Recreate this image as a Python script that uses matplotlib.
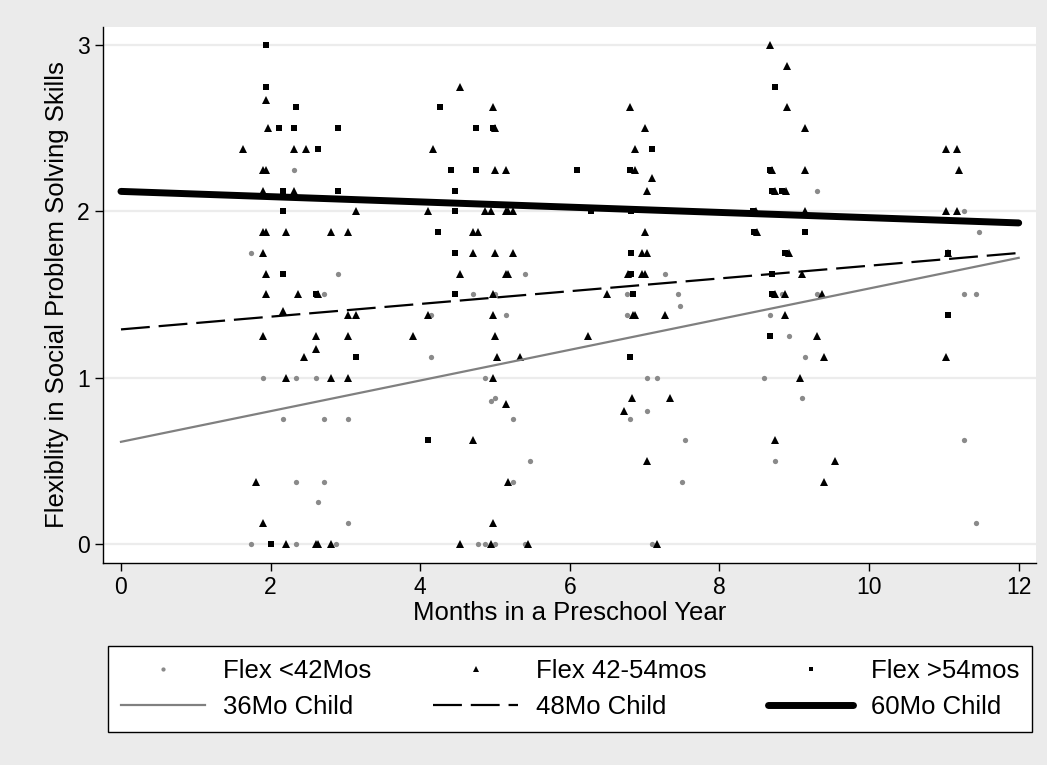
import numpy as np
import matplotlib
matplotlib.use("Agg")
import matplotlib.pyplot as plt

plt.rcParams['font.family'] = ['Liberation Sans', 'DejaVu Sans']

# observed flexibility scores by age group (month of preschool year, score)
young_x = [2.31, 1.74, 2.90, 2.71, 1.90, 2.34, 2.61, 2.17, 2.71, 3.04, 2.34, 2.71, 2.64, 3.04,
           1.74, 2.34, 2.87, 5.40, 4.70, 5.00, 4.14, 5.14, 4.14, 4.87, 5.00, 4.94, 5.24, 5.47,
           5.24, 4.77, 4.87, 5.00, 5.40, 7.27, 6.77, 7.44, 7.47, 6.77, 7.03, 7.17, 7.03, 6.80,
           7.54, 7.50, 7.10, 9.30, 8.83, 9.30, 8.67, 8.93, 9.14, 8.60, 9.10, 8.74, 11.27, 11.47,
           11.27, 11.43, 11.27, 11.43]
young_y = [2.25, 1.75, 1.625, 1.5, 1.0, 1.0, 1.0, 0.75, 0.75, 0.75, 0.375, 0.375, 0.25, 0.125,
           0, 0, 0, 1.625, 1.5, 1.5, 1.375, 1.375, 1.125, 1.0, 0.88, 0.86, 0.75, 0.5,
           0.375, 0, 0, 0, 0, 1.625, 1.5, 1.5, 1.43, 1.375, 1.0, 1.0, 0.80, 0.75,
           0.625, 0.375, 0, 2.125, 1.5, 1.5, 1.375, 1.25, 1.125, 1.0, 0.875, 0.5, 2.0, 1.875,
           1.5, 1.5, 0.625, 0.125]

mid_x = [1.94, 1.97, 1.63, 2.31, 2.47, 1.90, 1.94, 1.90, 2.31, 3.14, 1.90, 1.94, 2.20, 2.81,
         3.04, 1.90, 1.94,
         1.94, 2.37, 2.64, 2.17, 3.04, 3.14, 1.90, 2.61, 3.04, 2.61, 2.44, 2.20, 2.81, 3.04,
         1.80, 1.90, 2.20, 2.61, 2.64, 2.81,
         4.53, 4.97, 5.00, 4.17, 5.00, 5.14, 4.11, 4.87, 4.94, 5.14, 5.17, 5.24, 4.70, 4.77,
         4.70, 5.00, 5.24, 4.53, 5.14, 5.17,
         4.97, 4.11, 4.97, 3.90, 5.00, 5.03, 5.34, 4.97, 5.14, 4.70, 5.17, 4.97, 4.53, 4.94, 5.44,
         6.80, 7.00, 6.87, 6.87, 7.10, 7.03, 7.00, 6.97, 7.03, 6.78, 6.97, 7.00,
         6.50, 6.84, 6.87, 7.27, 6.24, 6.83, 7.34, 6.73, 7.03, 7.17,
         8.67, 8.90, 8.90, 9.14, 8.70, 9.14, 8.74, 8.89, 8.49, 9.14, 8.50, 8.93, 9.10,
         8.74, 8.87, 9.37, 8.87, 9.30, 9.40, 9.07, 8.74, 9.54, 9.40,
         11.03, 11.17, 11.20, 11.03, 11.17, 11.06, 11.03]
mid_y = [2.67, 2.5, 2.375, 2.375, 2.375, 2.25, 2.25, 2.125, 2.125, 2.0, 1.875, 1.875, 1.875, 1.875,
         1.875, 1.75, 1.625,
         1.5, 1.5, 1.5, 1.40, 1.375, 1.375, 1.25, 1.25, 1.25, 1.17, 1.125, 1.0, 1.0, 1.0,
         0.375, 0.125, 0, 0, 0, 0,
         2.75, 2.625, 2.5, 2.375, 2.25, 2.25, 2.0, 2.0, 2.0, 2.0, 2.0, 2.0, 1.875, 1.875,
         1.75, 1.75, 1.75, 1.625, 1.625, 1.625,
         1.5, 1.375, 1.375, 1.25, 1.25, 1.125, 1.125, 1.0, 0.84, 0.625, 0.375, 0.125, 0, 0, 0,
         2.625, 2.5, 2.375, 2.25, 2.20, 2.125, 1.875, 1.75, 1.75, 1.625, 1.625, 1.625,
         1.5, 1.375, 1.375, 1.375, 1.25, 0.875, 0.875, 0.80, 0.5, 0,
         3.0, 2.875, 2.625, 2.5, 2.25, 2.25, 2.125, 2.125, 2.0, 2.0, 1.875, 1.75, 1.625,
         1.5, 1.5, 1.5, 1.375, 1.25, 1.125, 1.0, 0.625, 0.5, 0.375,
         2.375, 2.375, 2.25, 2.0, 2.0, 1.75, 1.125]

old_x = [1.94, 1.94, 2.34, 2.11, 2.31, 2.90, 2.64, 2.17, 2.90, 2.17, 2.17,
         2.61, 3.14, 2.00,
         4.27, 4.74, 4.97, 4.41, 4.74, 4.47, 4.47, 4.24, 4.47, 4.47, 4.11,
         7.10, 6.10, 6.80, 6.28, 6.82, 6.82, 6.82, 6.84, 6.80,
         8.74, 8.67, 8.70, 8.83, 8.45, 8.46, 9.14, 8.87, 8.70, 8.70, 8.67,
         11.06, 11.06]
old_y = [3.0, 2.75, 2.625, 2.5, 2.5, 2.5, 2.375, 2.125, 2.125, 2.0, 1.625,
         1.5, 1.125, 0,
         2.625, 2.5, 2.5, 2.25, 2.25, 2.125, 2.0, 1.875, 1.75, 1.5, 0.625,
         2.375, 2.25, 2.25, 2.0, 2.0, 1.75, 1.625, 1.5, 1.125,
         2.75, 2.25, 2.125, 2.125, 2.0, 1.875, 1.875, 1.75, 1.625, 1.5, 1.25,
         1.75, 1.375]

# predicted trajectories for children of a given age (intercept, slope per month)
fit_labels = ["36Mo Child", "48Mo Child", "60Mo Child"]
fit_intercept = [0.614, 1.29, 2.12]
fit_slope = [0.0922, 0.0383, -0.0158]

months = np.array([0, 12])

fig = plt.figure(figsize=(10.47, 7.65), dpi=100, facecolor="#ebebeb")
ax = fig.add_axes([0.0984, 0.264, 0.891, 0.701])
ax.set_facecolor("white")

h_young, = ax.plot(young_x, young_y, 'o', ls='none', color="#8a8a8a", ms=3.8, mew=0)
h_mid, = ax.plot(mid_x, mid_y, '^', ls='none', color="black", ms=5.2, mew=0)
h_old, = ax.plot(old_x, old_y, 's', ls='none', color="black", ms=3.9, mew=0)

styles = [dict(color="#808080", lw=1.6, ls='-'),
          dict(color="black", lw=1.6, ls=(0, (13, 4))),
          dict(color="black", lw=5.0, ls='-', solid_capstyle='round')]
fit_handles = []
for b0, b1, st in zip(fit_intercept, fit_slope, styles):
    h, = ax.plot(months, b0 + b1 * months, **st)
    fit_handles.append(h)

ax.set_xlim(-0.24, 12.23)
ax.set_ylim(-0.115, 3.11)
ax.set_xticks(range(0, 13, 2))
ax.set_yticks([0, 1, 2, 3])
ax.grid(axis='y', color="#ececec", lw=1.6)
ax.set_axisbelow(True)
for s in ['top', 'right']:
    ax.spines[s].set_visible(False)
for s in ['left', 'bottom']:
    ax.spines[s].set_linewidth(1.0)
ax.tick_params(labelsize=16.5, length=6, width=1.0, direction='out')
ax.set_xlabel("Months in a Preschool Year", fontsize=18.5, labelpad=1)
ax.set_ylabel("Flexiblity in Social Problem Solving Skills", fontsize=18.5, labelpad=6)

handles = [h_young, fit_handles[0], h_mid, fit_handles[1], h_old, fit_handles[2]]
labels = ["Flex <42Mos", fit_labels[0], "Flex 42-54mos", fit_labels[1], "Flex >54mos", fit_labels[2]]
leg = fig.legend(handles, labels, ncol=3, loc='upper left',
                 bbox_to_anchor=(0.103, 0.155, 0.883, 0.0), mode='expand',
                 fontsize=18.5, handlelength=3.3, handletextpad=0.7, columnspacing=1.5,
                 fancybox=False, framealpha=1, edgecolor='black', borderaxespad=0,
                 labelspacing=0.45, borderpad=0.5, markerscale=0.8)
leg.get_frame().set_linewidth(1.0)

fig.savefig("out.png", dpi=100, facecolor=fig.get_facecolor())
